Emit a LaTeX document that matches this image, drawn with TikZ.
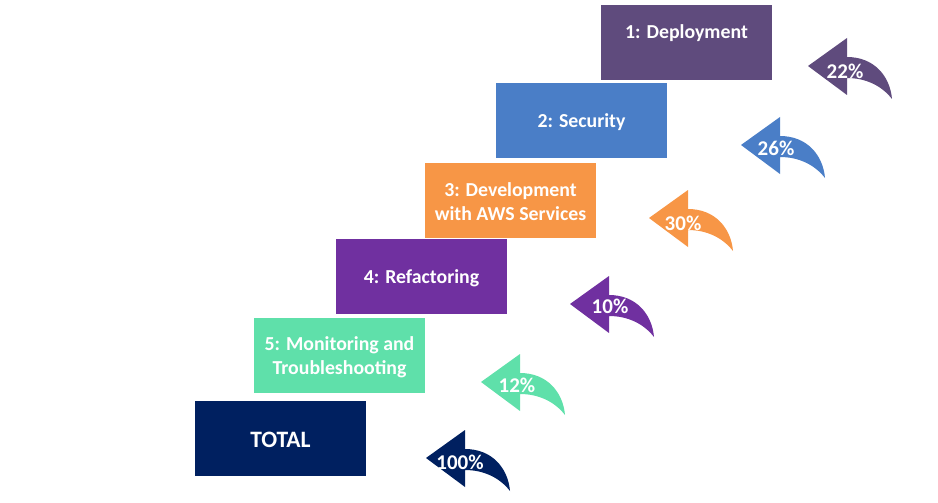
\documentclass[tikz,border=0pt]{standalone}
\usepackage{fontspec}
\setmainfont{Carlito}
\definecolor{cone}{RGB}{95,75,125}
\definecolor{ctwo}{RGB}{74,126,199}
\definecolor{cthree}{RGB}{247,150,70}
\definecolor{cfour}{RGB}{112,48,160}
\definecolor{cfive}{RGB}{95,224,170}
\definecolor{ctot}{RGB}{0,32,96}
\tikzset{
  stepbox/.style={minimum width=171pt,minimum height=75pt,inner sep=0pt,text=white,font=\fontsize{19.8}{24}\selectfont\bfseries,align=center},
  boxlabel/.style={text=white,font=\fontsize{19.8}{24}\selectfont\bfseries,align=center,inner sep=0pt},
  pct/.style={text=white,font=\fontsize{21}{22}\selectfont\bfseries,inner sep=0pt},
  curv/.pic={\fill[pic actions] (0,0) -- (39,-28) -- (39,-9) .. controls (66,-9) and (82,10) .. (84,33) .. controls (74,20) and (58,12) .. (39,12) -- (39,29) -- cycle;}
}
\begin{document}
\begin{tikzpicture}[x=1pt,y=-1pt]
\useasboundingbox (0,0) rectangle (938,503);
\node[stepbox,fill=cone] (b1) at (686.5,42.5) {};
\node[boxlabel] (t1) at (686.5,33) {1: Deployment};
\node[stepbox,fill=ctwo] (b2) at (581.5,120.5) {};
\node[boxlabel] (t2) at (581.5,122.5) {2: Security};
\node[stepbox,fill=cthree] (b3) at (510.5,200.5) {};
\node[boxlabel] (t3) at (510.5,202) {3: Development\\with AWS Services};
\node[stepbox,fill=cfour] (b4) at (421.5,276.5) {};
\node[boxlabel] (t4) at (421.5,278) {4: Refactoring};
\node[stepbox,fill=cfive] (b5) at (339.5,355) {};
\node[boxlabel] (t5) at (339.5,357) {5: Monitoring and\\Troubleshooting};
\node[stepbox,fill=ctot] (b6) at (280.5,438.5) {};
\node[boxlabel,font=\fontsize{23.5}{24}\selectfont\bfseries] (t6) at (280.5,440) {TOTAL};
\pic[fill=cone] at (808,66) {curv};
\pic[fill=ctwo] at (741,145) {curv};
\pic[fill=cthree] at (649,218) {curv};
\pic[fill=cfour] at (570,304) {curv};
\pic[fill=cfive] at (481,382) {curv};
\pic[fill=ctot] at (426,458) {curv};
\node[pct] (p1) at (845,71) {22\%};
\node[pct] (p2) at (776,148) {26\%};
\node[pct] (p3) at (683,223) {30\%};
\node[pct] (p4) at (610,306) {10\%};
\node[pct] (p5) at (517,385) {12\%};
\node[pct] (p6) at (460,462) {100\%};
\end{tikzpicture}
\end{document}
